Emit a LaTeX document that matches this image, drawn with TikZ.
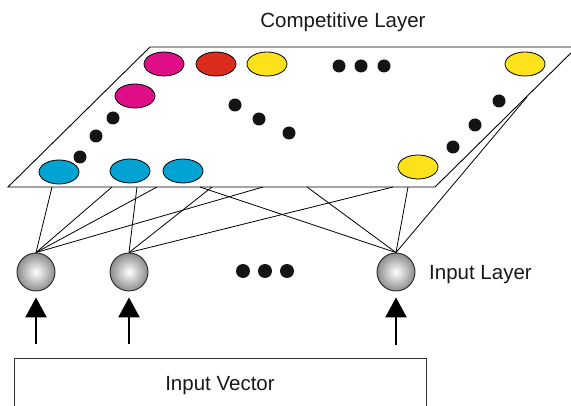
\documentclass[tikz,border=0pt]{standalone}
\usepackage{fontspec}
\setmainfont{Liberation Sans}
\usetikzlibrary{shapes.geometric,arrows.meta}
\definecolor{magc}{RGB}{224,14,134}
\definecolor{redc}{RGB}{220,44,30}
\definecolor{yelc}{RGB}{252,226,26}
\definecolor{bluc}{RGB}{0,163,210}
\definecolor{dotc}{RGB}{20,20,20}
\tikzset{
  unit/.style={ellipse,draw=black,line width=0.8pt,minimum width=40pt,minimum height=24pt,inner sep=0pt},
  bigdot/.style={circle,fill=dotc,minimum size=13pt,inner sep=0pt},
  indot/.style={circle,fill=dotc,minimum size=14pt,inner sep=0pt},
  inp/.style={circle,draw=black!85,line width=0.9pt,minimum size=38pt,inner sep=0pt,shading=radial,inner color=white,outer color=black!45},
  lbl/.style={font=\fontsize{20.5}{24}\selectfont,text height=14.7pt,text depth=0pt,inner sep=0pt,text=black!90},
  conn/.style={line width=0.8pt,black},
  uparrow/.style={line width=2.6pt,-{Triangle[width=21pt,length=20pt]},shorten >=6pt}
}
\begin{document}
\begin{tikzpicture}[x=1pt,y=-1pt]
\useasboundingbox (0,0) rectangle (571,406);
\clip (0,0) rectangle (571,406);
% plane
\coordinate (tl) at (150,47);
\coordinate (tr) at (577,47);
\coordinate (br) at (435,187);
\coordinate (bl) at (8,187);
\draw[line width=0.9pt,black] (tl) -- (tr) -- (br) -- (bl) -- cycle;
% competitive units
\node[unit,fill=magc] (m1) at (164,64) {};
\node[unit,fill=redc] (r1) at (216,64) {};
\node[unit,fill=yelc] (y1) at (267,64) {};
\node[unit,fill=yelc] (y2) at (525,64) {};
\node[unit,fill=magc] (m2) at (135,96) {};
\node[unit,fill=bluc] (b1) at (59,172) {};
\node[unit,fill=bluc] (b2) at (130,171) {};
\node[unit,fill=bluc] (b3) at (183,171) {};
\node[unit,fill=yelc] (y3) at (418,167) {};
% dots on plane
\node[bigdot] (d1) at (339,66) {};
\node[bigdot] (d2) at (361,66) {};
\node[bigdot] (d3) at (384,66) {};
\node[bigdot] (d4) at (113,118) {};
\node[bigdot] (d5) at (96,136) {};
\node[bigdot] (d6) at (80,157) {};
\node[bigdot] (d7) at (235,105) {};
\node[bigdot] (d8) at (259,119) {};
\node[bigdot] (d9) at (289,133) {};
\node[bigdot] (d10) at (499,101) {};
\node[bigdot] (d11) at (475,125) {};
\node[bigdot] (d12) at (453,147) {};
% input nodes
\node[inp] (in1) at (36,272) {};
\node[inp] (in2) at (129,272) {};
\node[inp] (in3) at (396,272) {};
\node[indot] (e1) at (243,271) {};
\node[indot] (e2) at (265,271) {};
\node[indot] (e3) at (287,271) {};
% connection end points on the plane
\coordinate (c1) at (52,187);
\coordinate (c2) at (112,187);
\coordinate (c3) at (157,187);
\coordinate (c4) at (263,187);
\coordinate (c5) at (137,187);
\coordinate (c6) at (212,187);
\coordinate (c7) at (393,187);
\coordinate (c8) at (200,187);
\coordinate (c9) at (307,187);
\coordinate (c10) at (408,187);
\coordinate (c11) at (527,97);
\foreach \c in {c1,c2,c3,c4} \draw[conn] (in1.north) -- (\c);
\foreach \c in {c5,c6,c7} \draw[conn] (in2.north) -- (\c);
\foreach \c in {c8,c9,c10,c11} \draw[conn] (in3.north) -- (\c);
% labels
\node[lbl] (comp) at (343,20) {Competitive Layer};
\node[lbl,anchor=west] (inlay) at (429,272) {Input Layer};
% input vector box
\node[lbl,draw=black!80,line width=0.9pt,minimum width=412pt,minimum height=50pt] (vec) at (220,383) {Input Vector};
% arrows
\coordinate (a1) at (36,344);
\coordinate (a2) at (129,344);
\coordinate (a3) at (396,345);
\draw[uparrow] (a1) -- (in1.south);
\draw[uparrow] (a2) -- (in2.south);
\draw[uparrow] (a3) -- (in3.south);
\end{tikzpicture}
\end{document}
